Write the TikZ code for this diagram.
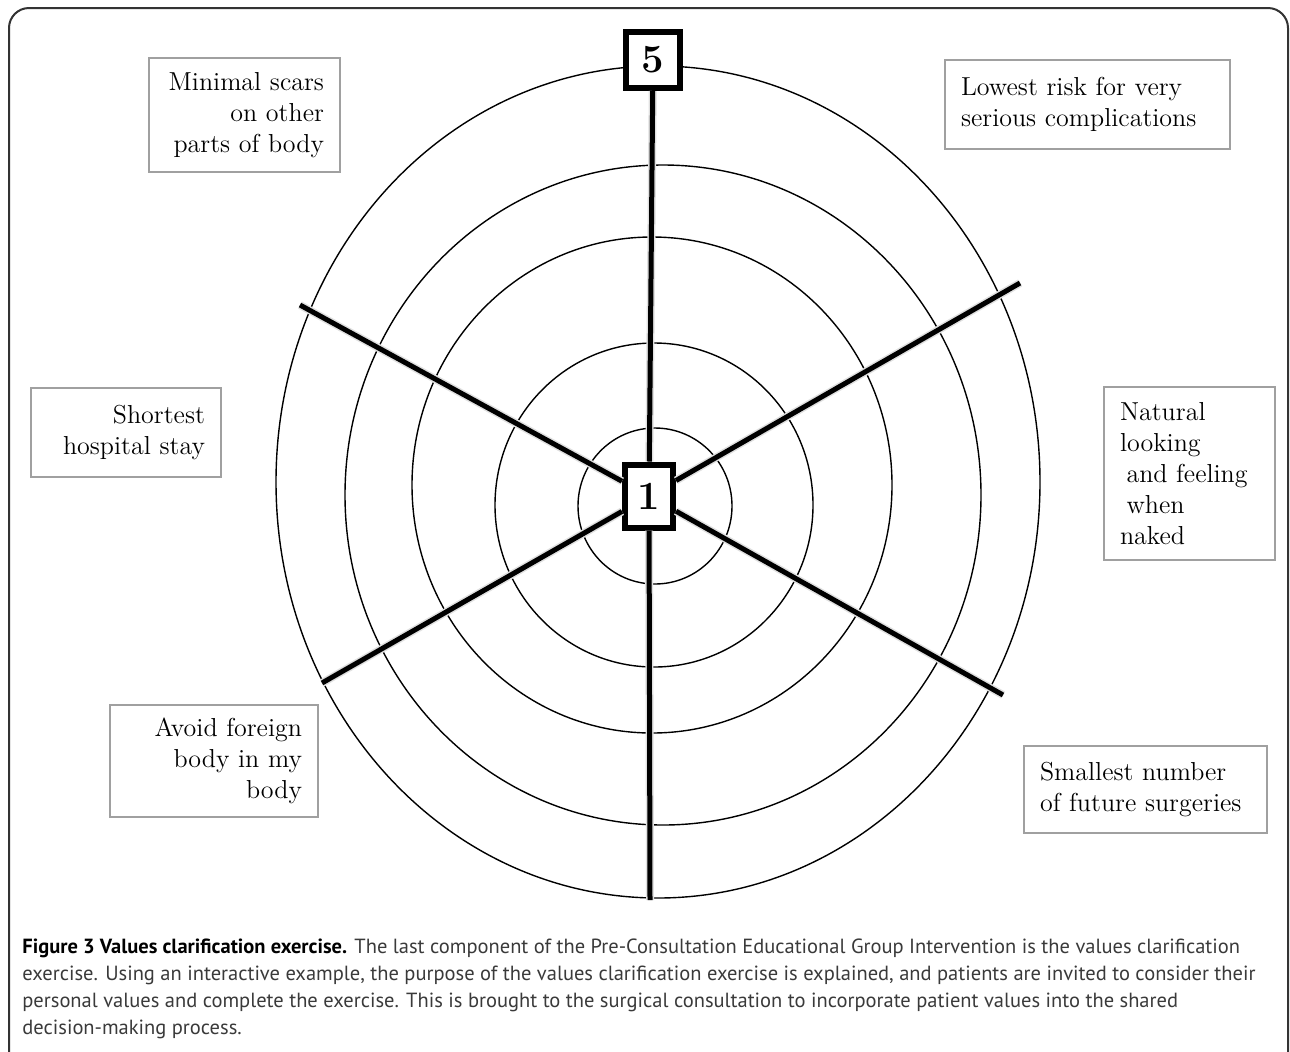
\documentclass[tikz,border=0pt]{standalone}
\usepackage{fontspec}
\newfontfamily\capfont{PT Sans}
\usetikzlibrary{positioning, calc}
\definecolor{boxgray}{HTML}{A0A0A0}
\definecolor{captext}{HTML}{3A3A3A}
\definecolor{framegray}{HTML}{333333}
\tikzset{%
  ring/.style={draw, line width=0.7pt}, % the five concentric rings
  spoke/.style={draw, line width=2.5pt},
  spokeshadow/.style={draw=black!12, line width=4pt, shift={(2,3)}}, % soft shadow under the spokes
  score/.style={draw, line width=3pt, fill=white, inner sep=0pt,
    font=\fontsize{20}{24}\selectfont\bfseries},
  valuebox/.style={draw=boxgray, line width=0.6pt, inner xsep=8pt, inner ysep=0pt,
    font=\fontsize{13}{15.5}\selectfont},
}

\begin{document}
\begin{tikzpicture}[x=0.5pt, y=-0.5pt]
    \useasboundingbox (0,0) rectangle (1290,1051);
    \clip (0,0) rectangle (1290,1051);
    \fill[white] (0,0) rectangle (1290,1051);

    % outer frame, open at the bottom
    \draw[framegray, line width=1pt, rounded corners=10pt] (9,1120) -- (9,8) -- (1288,8) -- (1288,1120);

    % rings, from the inside out
    \draw[ring] (655,506) ellipse [x radius=38.5pt, y radius=39pt];
    \draw[ring] (654,505) ellipse [x radius=79.5pt, y radius=81pt];
    \draw[ring] (652,485) ellipse [x radius=120pt, y radius=124pt];
    \draw[ring] (663,495) ellipse [x radius=159pt, y radius=165pt];
    \draw[ring] (658,482) ellipse [x radius=191pt, y radius=208pt];

    % the two scores
    \node[score, minimum width=27pt, minimum height=28pt] (five) at (653,60) {5};
    \node[score, minimum width=24pt, minimum height=31.5pt] (one) at (649,496) {1};

    % free ends of the spokes
    \coordinate (ul) at (300,305);
    \coordinate (ur) at (1020,283);
    \coordinate (ll) at (322,683);
    \coordinate (lr) at (1003,695);
    \coordinate (bot) at (650,900);

    \draw[spokeshadow] (one) -- (five);
    \draw[spokeshadow] (one) -- (ul);
    \draw[spokeshadow] (one) -- (ur);
    \draw[spokeshadow] (one) -- (ll);
    \draw[spokeshadow] (one) -- (lr);
    \draw[spokeshadow] (one) -- (bot);

    \draw[spoke] (one) -- (five);
    \draw[spoke] (one) -- (ul);
    \draw[spoke] (one) -- (ur);
    \draw[spoke] (one) -- (ll);
    \draw[spoke] (one) -- (lr);
    \draw[spoke] (one) -- (bot);

    % the six values
    \node[valuebox, text width=79.5pt, minimum height=57pt, align=right] (scars) at (244.5,115)
      {Minimal scars\\ on other\\ parts of body};
    \node[valuebox, text width=126.5pt, minimum height=44.5pt, align=left] (risk) at (1087.5,104.5)
      {Lowest risk for very\\ serious complications};
    \node[valuebox, text width=79pt, minimum height=44.5pt, align=right] (stay) at (126,432.5)
      {Shortest\\ hospital stay};
    \node[valuebox, text width=69.5pt, minimum height=86.5pt, align=left] (naked) at (1189.5,473.5)
      {Natural\\ looking\\ \hspace*{0.25em}and feeling\\ \hspace*{0.25em}when\\ naked};
    \node[valuebox, text width=88pt, minimum height=56pt, align=right] (foreign) at (214,761)
      {Avoid foreign\\ body in my\\ body};
    \node[valuebox, text width=105.5pt, minimum height=43.5pt, align=left] (surgeries) at (1145.5,789.5)
      {Smallest number\\ of future surgeries};

    % caption
    \node[anchor=north west, inner sep=0pt, align=left, text=captext,
      font=\capfont\fontsize{10.25}{13.5}\selectfont] (caption) at (22,938)
      {{\color{black}\bfseries Figure 3 Values clarification exercise.} The last component of the Pre-Consultation Educational Group Intervention is the values clarification\\
       exercise. Using an interactive example, the purpose of the values clarification exercise is explained, and patients are invited to consider their\\
       personal values and complete the exercise. This is brought to the surgical consultation to incorporate patient values into the shared\\
       decision-making process.};
  \end{tikzpicture}
\end{document}
